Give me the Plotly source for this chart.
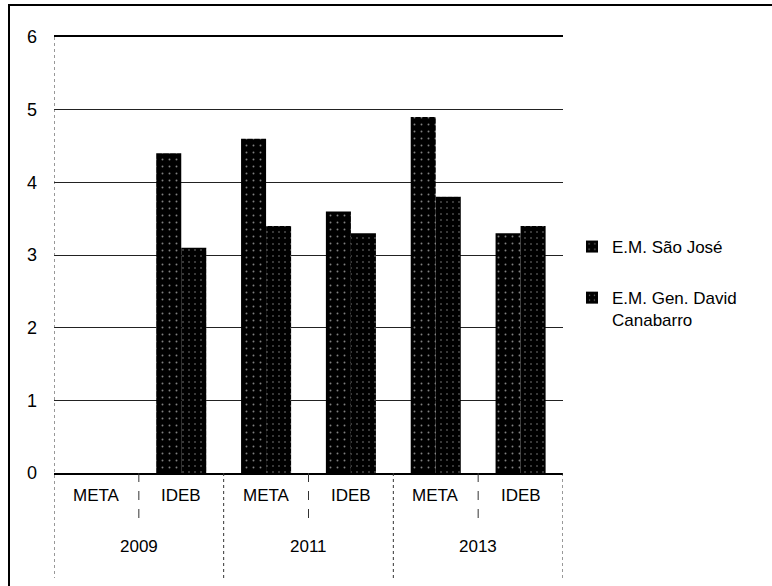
import plotly.graph_objects as go

# IDEB results and targets for two municipal schools
years = ["2009", "2011", "2013"]
kinds = ["META", "IDEB"]
sao_jose = [None, 4.4, 4.6, 3.6, 4.9, 3.3]
david_canabarro = [None, 3.1, 3.4, 3.3, 3.8, 3.4]
y_ticks = [0, 1, 2, 3, 4, 5, 6]

categories = [f"{y} {k}" for y in years for k in kinds]

W, H = 772, 586
L, R, T, B = 54, 209, 37, 113
font_family = "Liberation Sans, Arial"
ink = "black"

fig = go.Figure()
for i, (name, vals, size) in enumerate([
        ("E.M. São José", sao_jose, 7),
        ("E.M. Gen. David<br>Canabarro", david_canabarro, 6)]):
    fig.add_trace(go.Bar(
        x=categories, y=vals, name=name, legendgroup=f"g{i}",
        marker=dict(color=ink, line=dict(width=0),
                    pattern=dict(shape=".", fgcolor="white", bgcolor=ink,
                                 size=size, solidity=0.06)),
    ))

plot_h = H - T - B
py = lambda v: (H - B - v) / plot_h          # pixel row -> paper y
px = lambda v: (v - L) / (W - L - R)         # pixel column -> paper x

# category labels under the axis: inner level (META/IDEB), outer level (year)
for i, cat in enumerate(categories):
    fig.add_annotation(x=i, y=py(507), xref="x", yref="paper",
                       text=cat.split(" ")[1], showarrow=False,
                       font=dict(size=17, color=ink))
for j, yr in enumerate(years):
    fig.add_annotation(x=2 * j + 0.5, y=py(558), xref="x", yref="paper",
                       text=yr, showarrow=False,
                       font=dict(size=17, color=ink))

# dividers: long ones between years, short ones between META and IDEB
for j in range(len(years) + 1):
    fig.add_shape(type="line", xref="x", yref="paper",
                  x0=2 * j - 0.5, x1=2 * j - 0.5,
                  y0=1 if j == 0 else 0, y1=py(578),
                  line=dict(color="#333333", width=1, dash="dot"))
for j in range(len(years)):
    fig.add_shape(type="line", xref="x", yref="paper",
                  x0=2 * j + 0.5, x1=2 * j + 0.5, y0=0, y1=py(524),
                  line=dict(color="#333333", width=1, dash="dash"))

# outer frame: left and top edges
fig.add_shape(type="line", xref="paper", yref="paper",
              x0=px(9), x1=px(9), y0=py(4), y1=py(586),
              line=dict(color=ink, width=2))
fig.add_shape(type="line", xref="paper", yref="paper",
              x0=px(8), x1=px(772), y0=py(5), y1=py(5),
              line=dict(color=ink, width=2))

fig.update_layout(
    width=W, height=H,
    margin=dict(l=L, r=R, t=T, b=B),
    paper_bgcolor="white", plot_bgcolor="white",
    barmode="group", bargap=0.41, bargroupgap=0,
    font=dict(family=font_family, size=17, color=ink),
    legend=dict(x=px(572), y=py(229), xanchor="left", yanchor="top",
                font=dict(size=17), tracegroupgap=26, valign="top",
                itemwidth=30, bgcolor="rgba(0,0,0,0)"),
    xaxis=dict(type="category", showticklabels=False, showline=True,
               mirror=True, linecolor=ink, linewidth=1.5, ticks="",
               showgrid=False, range=[-0.5, 5.5]),
    yaxis=dict(range=[0, 6], tickvals=y_ticks, showgrid=True,
               gridcolor="#222222", gridwidth=1, zeroline=False,
               showline=False, ticks="", tickfont=dict(size=18),
               ticklabelstandoff=16),
)

fig.write_html("out.html")
